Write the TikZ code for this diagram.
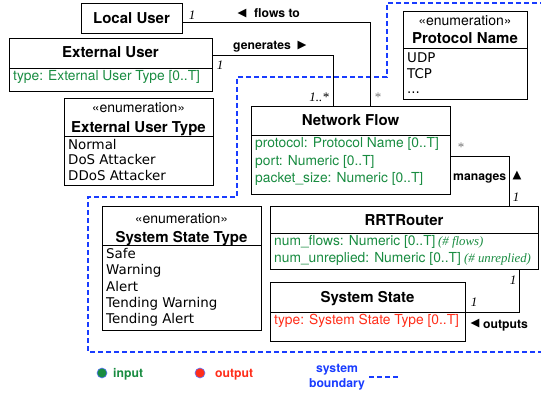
\documentclass[tikz,border=0pt]{standalone}
\usepackage{fontspec}
\setmainfont{TeX Gyre Heros}
\newfontfamily\litfont{DejaVu Sans}
\newfontfamily\serfont{Liberation Serif}
\newfontfamily\symfont{DejaVu Sans}
\definecolor{ingreen}{RGB}{25,140,65}
\definecolor{outred}{RGB}{255,45,25}
\definecolor{bndblue}{RGB}{25,60,255}
\tikzset{
  box/.style={draw, line width=1pt, inner sep=0pt, anchor=north west},
  conn/.style={draw, line width=0.8pt},
  hdr/.style={inner sep=0pt, anchor=base, font=\bfseries\fontsize{15}{18}\selectfont},
  ehdr/.style={inner sep=0pt, anchor=base, font=\bfseries\fontsize{15}{17}\selectfont},
  stereo/.style={inner sep=0pt, anchor=base, font=\fontsize{14}{16}\selectfont},
  attr/.style={inner sep=0pt, anchor=base west, text=ingreen, font=\fontsize{13.8}{16}\selectfont},
  oattr/.style={inner sep=0pt, anchor=base west, text=outred, font=\fontsize{13.8}{16}\selectfont},
  lit/.style={inner sep=0pt, anchor=base west, font=\litfont\fontsize{13.4}{15}\selectfont},
  mult/.style={inner sep=0pt, font=\serfont\itshape\fontsize{13}{15}\selectfont},
  star/.style={inner sep=0pt, text=black!55, font=\serfont\fontsize{13}{15}\selectfont},
  lbl/.style={inner sep=0pt, anchor=base west, font=\bfseries\fontsize{12.2}{14}\selectfont},
  tri/.style={inner sep=0pt, font=\symfont\fontsize{11.5}{12}\selectfont},
  note/.style={inner sep=0pt, anchor=base west, text=ingreen, font=\serfont\itshape\fontsize{12.8}{15}\selectfont},
  boundary/.style={draw=bndblue, line width=1.5pt, dash pattern=on 5pt off 3pt},
  dot/.style={circle, inner sep=0pt, minimum size=10pt, draw=bndblue!70, line width=0.6pt}
}
\begin{document}
\begin{tikzpicture}[x=1pt,y=-1pt]
\useasboundingbox (0,0) rectangle (541,396);
% system boundary
\draw[boundary] (545,3) -- (387,3) -- (387,77) -- (237,77) -- (237,197) -- (88,197) -- (88,352) -- (545,352);

% Local User
\node[box, minimum width=101pt, minimum height=30pt] (lu) at (81,3) {};
\node[hdr] (lut) at (131.5,24) {Local User};

% External User
\node[box, minimum width=203pt, minimum height=30pt] (eu) at (9,38) {};
\node[box, minimum width=203pt, minimum height=23pt] (eub) at (9,68) {};
\node[hdr] (eut) at (110.5,58) {External User};
\node[attr] (eua) at (13,81) {type: External User Type [0..T]};

% External User Type
\node[box, minimum width=149pt, minimum height=38pt] (eut2) at (64,98) {};
\node[box, minimum width=149pt, minimum height=49pt] (eutb) at (64,136) {};
\node[stereo] (euts) at (138.5,112) {«enumeration»};
\node[ehdr] (eutn) at (138.5,132) {External User Type};
\node[lit] (l1) at (68,149) {Normal};
\node[lit] (l2) at (68,164.5) {DoS Attacker};
\node[lit] (l3) at (68,180) {DDoS Attacker};

% Protocol Name
\node[box, minimum width=124pt, minimum height=37pt] (pn) at (403,11) {};
\node[box, minimum width=124pt, minimum height=51pt] (pnb) at (403,48) {};
\node[stereo] (pns) at (465,26) {«enumeration»};
\node[ehdr] (pnn) at (465,44) {Protocol Name};
\node[lit] (p1) at (407,63) {UDP};
\node[lit] (p2) at (407,78.5) {TCP};
\node[lit] (p3) at (407,94) {...};

% Network Flow
\node[box, minimum width=199pt, minimum height=29pt] (nf) at (251,106) {};
\node[box, minimum width=199pt, minimum height=59pt] (nfb) at (251,135) {};
\node[hdr] (nft) at (350.5,125) {Network Flow};
\node[attr] (nf1) at (255,147.5) {protocol: Protocol Name [0..T]};
\node[attr] (nf2) at (255,165) {port: Numeric [0..T]};
\node[attr] (nf3) at (255,182) {packet\_size: Numeric [0..T]};

% System State Type
\node[box, minimum width=159pt, minimum height=39pt] (sst) at (102,206) {};
\node[box, minimum width=159pt, minimum height=85pt] (sstb) at (102,245) {};
\node[stereo] (ssts) at (181.5,223) {«enumeration»};
\node[ehdr] (sstn) at (181.5,242) {System State Type};
\node[lit] (s1) at (106,258) {Safe};
\node[lit] (s2) at (106,274.5) {Warning};
\node[lit] (s3) at (106,291) {Alert};
\node[lit] (s4) at (106,307) {Tending Warning};
\node[lit] (s5) at (106,323) {Tending Alert};

% RRTRouter
\node[box, minimum width=268pt, minimum height=27pt] (rr) at (270,206) {};
\node[box, minimum width=268pt, minimum height=36pt] (rrb) at (270,233) {};
\node[hdr] (rrt) at (404,225) {RRTRouter};
\node[attr] (rr1) at (274,245) {num\_flows: Numeric [0..T]};
\node[attr] (rr2) at (274,262) {num\_unreplied: Numeric [0..T]};
\node[note] (rn1) at (438,245) {(\# flows)};
\node[note] (rn2) at (464,262) {(\# unreplied)};

% System State
\node[box, minimum width=195pt, minimum height=30pt] (ss) at (270,282) {};
\node[box, minimum width=195pt, minimum height=29pt] (ssb) at (270,312) {};
\node[hdr] (sst2) at (367.5,302) {System State};
\node[oattr] (ssa) at (274,324) {type: System State Type [0..T]};

% connectors
\draw[conn] ([yshift=-4pt]lu.east) -| ([xshift=19.5pt]nf.north);
\draw[conn] ([yshift=-2pt]eu.east) -| ([xshift=-17.5pt]nf.north);
\draw[conn] ([yshift=8.5pt]nfb.east) -| ([xshift=105pt]rr.north);
\draw[conn] ([xshift=115pt]rrb.south) |- (ssb.north east);

% connector labels
\node[mult] (m1) at (192,15) {1};
\node[tri] (t1) at (242,14) {◀};
\node[lbl] (lb1) at (254,18) {flows to};
\node[lbl] (lb2) at (233,50) {generates};
\node[tri] (t2) at (302,46) {▶};
\node[mult] (m2) at (220,65) {1};
\node[mult] (m3) at (319,97) {1..*};
\node[star] (m4) at (378,97) {*};
\node[star] (m5) at (461,147) {*};
\node[lbl] (lb3) at (453,180) {manages};
\node[tri] (t3) at (517,175.5) {▲};
\node[mult] (m6) at (516,197) {1};
\node[mult] (m7) at (513,280) {1};
\node[mult] (m8) at (474,302) {1};
\node[tri] (t4) at (475,323.5) {◀};
\node[lbl] (lb4) at (483,328) {outputs};

% legend
\node[dot, fill=ingreen] (d1) at (102,373) {};
\node[lbl, text=ingreen] (lg1) at (113,377) {input};
\node[dot, fill=outred] (d2) at (200,373) {};
\node[lbl, text=outred] (lg2) at (215,377) {output};
\node[inner sep=0pt, text=bndblue, align=center, font=\bfseries\fontsize{12.2}{15}\selectfont] (lg3) at (337,377) {system\\boundary};
\draw[boundary, line width=1.3pt, dash pattern=on 5pt off 3pt] (lg3.east) ++(4pt,0) coordinate (lgs) -- ++(31pt,0) coordinate (lge);
\end{tikzpicture}
\end{document}
